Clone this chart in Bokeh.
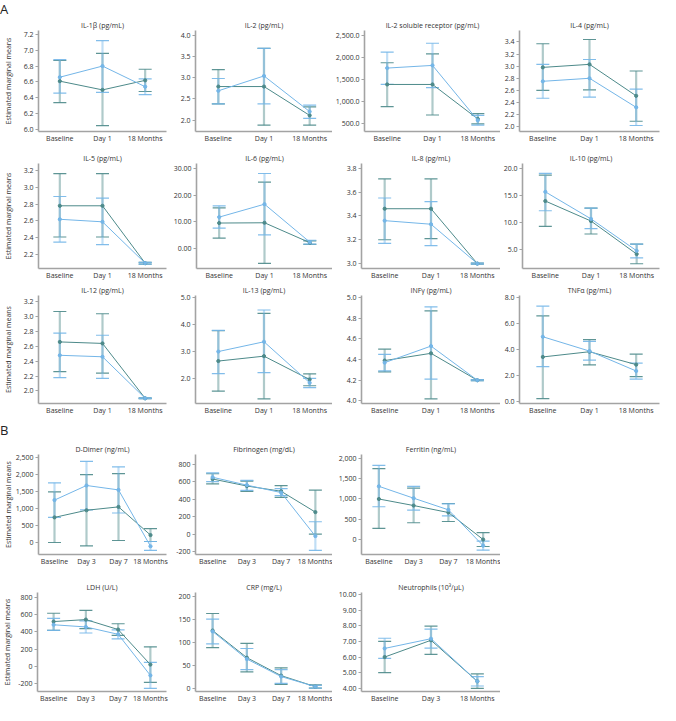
from bokeh.plotting import figure
from bokeh.models import (Whisker, TeeHead, ColumnDataSource, FixedTicker,
                          NumeralTickFormatter, Range1d, FactorRange, Div)
from bokeh.layouts import row, column
from bokeh.embed import file_html
from bokeh.resources import INLINE

# ---------------- data ----------------
CATS_A = ["Baseline", "Day 1", "18 Months"]
CATS_B = ["Baseline", "Day 3", "Day 7", "18 Months"]
CATS_N = ["Baseline", "Day 3", "18 Months"]

IL1B_L = [6.66, 6.80, 6.54]; IL1B_L_LO = [6.46, 6.47, 6.44]; IL1B_L_HI = [6.88, 7.12, 6.64]
IL1B_D = [6.61, 6.50, 6.62]; IL1B_D_LO = [6.34, 6.05, 6.48]; IL1B_D_HI = [6.87, 6.96, 6.76]
IL1B_TICKS = [6.0, 6.2, 6.4, 6.6, 6.8, 7.0, 7.2]

IL2_L = [2.69, 3.04, 2.20]; IL2_L_LO = [2.38, 2.38, 2.04]; IL2_L_HI = [2.98, 3.69, 2.35]
IL2_D = [2.79, 2.79, 2.11]; IL2_D_LO = [2.38, 1.88, 1.88]; IL2_D_HI = [3.19, 3.69, 2.31]
IL2_TICKS = [2.0, 2.5, 3.0, 3.5, 4.0]

IL2SR_L = [1760, 1820, 580]; IL2SR_L_LO = [1390, 1320, 470]; IL2SR_L_HI = [2120, 2320, 690]
IL2SR_D = [1390, 1390, 610]; IL2SR_D_LO = [890, 700, 500]; IL2SR_D_HI = [1880, 2080, 730]
IL2SR_TICKS = [500, 1000, 1500, 2000, 2500]

IL4_L = [2.75, 2.80, 2.32]; IL4_L_LO = [2.47, 2.49, 2.02]; IL4_L_HI = [3.03, 3.11, 2.62]
IL4_D = [2.98, 3.03, 2.51]; IL4_D_LO = [2.60, 2.61, 2.09]; IL4_D_HI = [3.37, 3.44, 2.92]
IL4_TICKS = [2.0, 2.2, 2.4, 2.6, 2.8, 3.0, 3.2, 3.4]

IL5_L = [2.62, 2.59, 2.10]; IL5_L_LO = [2.35, 2.32, 2.09]; IL5_L_HI = [2.89, 2.87, 2.11]
IL5_D = [2.78, 2.78, 2.10]; IL5_D_LO = [2.41, 2.41, 2.09]; IL5_D_HI = [3.16, 3.16, 2.11]
IL5_TICKS = [2.2, 2.4, 2.6, 2.8, 3.0, 3.2]

IL6_L = [11.8, 16.6, 2.5]; IL6_L_LO = [7.7, 5.2, 1.8]; IL6_L_HI = [16.0, 28.0, 3.2]
IL6_D = [9.6, 9.7, 2.3]; IL6_D_LO = [4.0, -5.4, 1.7]; IL6_D_HI = [15.2, 24.8, 3.0]
IL6_TICKS = [0, 10, 20, 30]

IL8_L = [3.36, 3.33, 3.00]; IL8_L_LO = [3.17, 3.15, 2.995]; IL8_L_HI = [3.55, 3.52, 3.005]
IL8_D = [3.46, 3.46, 3.00]; IL8_D_LO = [3.20, 3.21, 2.995]; IL8_D_HI = [3.71, 3.71, 3.005]
IL8_TICKS = [3.0, 3.2, 3.4, 3.6, 3.8]

IL10_L = [15.6, 10.6, 4.7]; IL10_L_LO = [12.1, 8.8, 3.4]; IL10_L_HI = [19.0, 12.6, 5.95]
IL10_D = [13.9, 10.2, 4.1]; IL10_D_LO = [9.2, 7.8, 2.3]; IL10_D_HI = [18.7, 12.6, 5.95]
IL10_TICKS = [5, 10, 15, 20]

IL12_L = [2.48, 2.46, 1.90]; IL12_L_LO = [2.18, 2.17, 1.895]; IL12_L_HI = [2.78, 2.75, 1.905]
IL12_D = [2.66, 2.64, 1.90]; IL12_D_LO = [2.26, 2.24, 1.895]; IL12_D_HI = [3.07, 3.04, 1.905]
IL12_TICKS = [2.0, 2.2, 2.4, 2.6, 2.8, 3.0, 3.2]

IL13_L = [3.01, 3.37, 1.86]; IL13_L_LO = [2.20, 2.23, 1.68]; IL13_L_HI = [3.79, 4.54, 2.02]
IL13_D = [2.66, 2.84, 1.98]; IL13_D_LO = [1.55, 1.27, 1.75]; IL13_D_HI = [3.78, 4.42, 2.19]
IL13_TICKS = [2.0, 3.0, 4.0, 5.0]

INFG_L = [4.37, 4.53, 4.20]; INFG_L_LO = [4.29, 4.21, 4.195]; INFG_L_HI = [4.45, 4.91, 4.205]
INFG_D = [4.39, 4.46, 4.20]; INFG_D_LO = [4.28, 4.02, 4.195]; INFG_D_HI = [4.50, 4.87, 4.205]
INFG_TICKS = [4.0, 4.2, 4.4, 4.6, 4.8, 5.0]

TNFA_L = [5.00, 3.90, 2.37]; TNFA_L_LO = [2.70, 3.20, 1.75]; TNFA_L_HI = [7.35, 4.65, 2.97]
TNFA_D = [3.45, 3.85, 2.86]; TNFA_D_LO = [0.25, 2.84, 1.94]; TNFA_D_HI = [6.60, 4.78, 3.66]
TNFA_TICKS = [0, 2, 4, 6, 8]

DDIM_L = [1250, 1680, 1550, -110]; DDIM_L_LO = [740, 960, 870, -230]; DDIM_L_HI = [1760, 2390, 2230, 30]
DDIM_D = [740, 950, 1050, 220]; DDIM_D_LO = [0, -100, 60, 30]; DDIM_D_HI = [1490, 2000, 2030, 410]
DDIM_TICKS = [0, 500, 1000, 1500, 2000, 2500]

FIB_L = [650, 560, 475, -22]; FIB_L_LO = [600, 500, 440, -186]; FIB_L_HI = [700, 615, 520, 142]
FIB_D = [630, 550, 490, 252]; FIB_D_LO = [575, 490, 420, 0]; FIB_D_HI = [690, 605, 555, 504]
FIB_TICKS = [-200, 0, 200, 400, 600, 800]

FER_L = [1310, 1020, 735, -140]; FER_L_LO = [810, 730, 590, -250]; FER_L_HI = [1820, 1310, 880, -30]
FER_D = [1000, 840, 670, 10]; FER_D_LO = [280, 420, 450, -160]; FER_D_HI = [1740, 1265, 890, 180]
FER_TICKS = [0, 500, 1000, 1500, 2000]

LDH_L = [480, 455, 370, -105]; LDH_L_LO = [415, 385, 317, -255]; LDH_L_HI = [554, 525, 420, 45]
LDH_D = [517, 540, 425, 20]; LDH_D_LO = [415, 435, 358, -185]; LDH_D_HI = [613, 647, 492, 225]
LDH_TICKS = [-200, 0, 200, 400, 600, 800]

CRP_L = [123, 63, 25, 3]; CRP_L_LO = [96, 40, 10, 0]; CRP_L_HI = [150, 86, 40, 6]
CRP_D = [125, 66, 27, 3]; CRP_D_LO = [88, 35, 8, 0]; CRP_D_HI = [162, 97, 44, 7]
CRP_TICKS = [0, 50, 100, 150, 200]

NEU_L = [6.55, 7.17, 4.45]; NEU_L_LO = [5.92, 6.57, 4.15]; NEU_L_HI = [7.20, 7.78, 4.75]
NEU_D = [6.00, 7.07, 4.45]; NEU_D_LO = [5.00, 6.17, 4.00]; NEU_D_HI = [7.00, 7.97, 4.92]
NEU_TICKS = [4, 5, 6, 7, 8, 9, 10]

# ---------------- style ----------------
LIGHT = "#74b6e8"
DARK = "#4d8a8a"
AXIS = "#a3a3a3"
TXT = "#333333"
FONT = "Open Sans"
FS = "7px"

# column geometry: (width, min_border_left, min_border_right)
COLS = [(170, 32, 4), (162, 25, 0), (168, 29, 0), (160, 19, 1)]


def panel(col, rowdims, title, cats, lm, llo, lhi, dm, dlo, dhi, ylim, ticks, fmt,
          ylabel_standoff=None):
    width, left, right = COLS[col]
    height, top, bottom = rowdims
    p = figure(width=width, height=height, x_range=FactorRange(factors=cats),
               y_range=Range1d(*ylim), output_backend="svg", toolbar_location=None,
               min_border_left=left, min_border_right=right,
               min_border_top=top, min_border_bottom=bottom,
               title=title, background_fill_color="white", border_fill_color="white")
    p.outline_line_color = None
    p.xgrid.visible = False
    p.ygrid.visible = False
    p.title.text_font = FONT
    p.title.text_font_size = FS
    p.title.text_font_style = "normal"
    p.title.text_color = TXT
    p.title.align = "center"
    try:
        p.title.standoff = 1
    except Exception:
        pass

    for ax in (p.xaxis[0], p.yaxis[0]):
        ax.axis_line_color = AXIS
        ax.axis_line_width = 1.6
        ax.major_label_text_font = FONT
        ax.major_label_text_font_size = FS
        ax.major_label_text_color = TXT
        ax.minor_tick_line_color = None
        ax.major_label_standoff = 2
    p.xaxis.major_tick_line_color = None
    p.xaxis.major_tick_out = 0
    p.xaxis.major_tick_in = 0
    p.yaxis.major_tick_line_color = AXIS
    p.yaxis.major_tick_out = 3
    p.yaxis.major_tick_in = 0
    p.yaxis.ticker = FixedTicker(ticks=ticks)
    p.yaxis.formatter = NumeralTickFormatter(format=fmt)
    if ylabel_standoff is not None:
        p.yaxis.axis_label = "Estimated marginal means"
        p.yaxis.axis_label_text_font = FONT
        p.yaxis.axis_label_text_font_size = FS
        p.yaxis.axis_label_text_font_style = "normal"
        p.yaxis.axis_label_text_color = TXT
        p.yaxis.axis_label_standoff = ylabel_standoff

    for m, lo, hi, c in ((dm, dlo, dhi, DARK), (lm, llo, lhi, LIGHT)):
        src = ColumnDataSource(dict(x=cats, m=m, lo=lo, hi=hi))
        w = Whisker(source=src, base="x", lower="lo", upper="hi",
                    line_color=c, line_width=2.2, line_alpha=0.45,
                    upper_head=TeeHead(size=13, line_color=c, line_width=1.2, line_alpha=0.9),
                    lower_head=TeeHead(size=13, line_color=c, line_width=1.2, line_alpha=0.9))
        p.add_layout(w)
    for m, lo, hi, c in ((dm, dlo, dhi, DARK), (lm, llo, lhi, LIGHT)):
        src = ColumnDataSource(dict(x=cats, m=m))
        p.line("x", "m", source=src, line_color=c, line_width=1.0)
        p.scatter("x", "m", source=src, size=3.2, fill_color=c, line_color=c)
    return p


RA1 = (127, 10, 13)
RA2 = (138, 18, 15)
RA3 = (135, 11, 15)
RB1 = (130, 16, 12)
RB2 = (137, 24, 12)

a1 = row(
    panel(0, RA1, "IL-1β (pg/mL)", CATS_A, IL1B_L, IL1B_L_LO, IL1B_L_HI, IL1B_D, IL1B_D_LO, IL1B_D_HI,
          (5.976, 7.248), IL1B_TICKS, "0.0", ylabel_standoff=8),
    panel(1, RA1, "IL-2 (pg/mL)", CATS_A, IL2_L, IL2_L_LO, IL2_L_HI, IL2_D, IL2_D_LO, IL2_D_HI,
          (1.73, 4.112), IL2_TICKS, "0.0"),
    panel(2, RA1, "IL-2 soluble receptor (pg/mL)", CATS_A, IL2SR_L, IL2SR_L_LO, IL2SR_L_HI,
          IL2SR_D, IL2SR_D_LO, IL2SR_D_HI, (328, 2608), IL2SR_TICKS, "0,0.0"),
    panel(3, RA1, "IL-4 (pg/mL)", CATS_A, IL4_L, IL4_L_LO, IL4_L_HI, IL4_D, IL4_D_LO, IL4_D_HI,
          (1.921, 3.589), IL4_TICKS, "0.0"),
)
a2 = row(
    panel(0, RA2, "IL-5 (pg/mL)", CATS_A, IL5_L, IL5_L_LO, IL5_L_HI, IL5_D, IL5_D_LO, IL5_D_HI,
          (2.037, 3.281), IL5_TICKS, "0.0", ylabel_standoff=8),
    panel(1, RA2, "IL-6 (pg/mL)", CATS_A, IL6_L, IL6_L_LO, IL6_L_HI, IL6_D, IL6_D_LO, IL6_D_HI,
          (-7.29, 31.72), IL6_TICKS, "0.00"),
    panel(2, RA2, "IL-8 (pg/mL)", CATS_A, IL8_L, IL8_L_LO, IL8_L_HI, IL8_D, IL8_D_LO, IL8_D_HI,
          (2.959, 3.839), IL8_TICKS, "0.0"),
    panel(3, RA2, "IL-10 (pg/mL)", CATS_A, IL10_L, IL10_L_LO, IL10_L_HI, IL10_D, IL10_D_LO, IL10_D_HI,
          (1.425, 20.84), IL10_TICKS, "0.0"),
)
a3 = row(
    panel(0, RA3, "IL-12 (pg/mL)", CATS_A, IL12_L, IL12_L_LO, IL12_L_HI, IL12_D, IL12_D_LO, IL12_D_HI,
          (1.83, 3.286), IL12_TICKS, "0.0", ylabel_standoff=8),
    panel(1, RA3, "IL-13 (pg/mL)", CATS_A, IL13_L, IL13_L_LO, IL13_L_HI, IL13_D, IL13_D_LO, IL13_D_HI,
          (1.096, 5.075), IL13_TICKS, "0.0"),
    panel(2, RA3, "INFγ (pg/mL)", CATS_A, INFG_L, INFG_L_LO, INFG_L_HI, INFG_D, INFG_D_LO, INFG_D_HI,
          (3.975, 5.019), INFG_TICKS, "0.0"),
    panel(3, RA3, "TNFα (pg/mL)", CATS_A, TNFA_L, TNFA_L_LO, TNFA_L_HI, TNFA_D, TNFA_D_LO, TNFA_D_HI,
          (-0.127, 8.17), TNFA_TICKS, "0.0"),
)
b1 = row(
    panel(0, RB1, "D-Dimer (ng/mL)", CATS_B, DDIM_L, DDIM_L_LO, DDIM_L_HI, DDIM_D, DDIM_D_LO, DDIM_D_HI,
          (-353, 2593), DDIM_TICKS, "0,0", ylabel_standoff=0),
    panel(1, RB1, "Fibrinogen (mg/dL)", CATS_B, FIB_L, FIB_L_LO, FIB_L_HI, FIB_D, FIB_D_LO, FIB_D_HI,
          (-232, 910), FIB_TICKS, "0"),
    panel(2, RB1, "Ferritin (ng/mL)", CATS_B, FER_L, FER_L_LO, FER_L_HI, FER_D, FER_D_LO, FER_D_HI,
          (-356, 2087), FER_TICKS, "0,0"),
)
b2 = row(
    panel(0, RB2, "LDH (U/L)", CATS_B, LDH_L, LDH_L_LO, LDH_L_HI, LDH_D, LDH_D_LO, LDH_D_HI,
          (-291, 853), LDH_TICKS, "0", ylabel_standoff=3),
    panel(1, RB2, "CRP (mg/L)", CATS_B, CRP_L, CRP_L_LO, CRP_L_HI, CRP_D, CRP_D_LO, CRP_D_HI,
          (-7.5, 207.7), CRP_TICKS, "0"),
    panel(2, RB2, "Neutrophils (10³/μL)", CATS_N, NEU_L, NEU_L_LO, NEU_L_HI, NEU_D, NEU_D_LO, NEU_D_HI,
          (3.80, 10.12), NEU_TICKS, "0.00"),
)

lab_a = Div(text="A", width=660, height=18,
            styles={"font-size": "13px", "line-height": "18px", "font-family": FONT,
                    "color": "#222", "overflow": "visible"},
            margin=(0, 0, 0, 0))
lab_b = Div(text="B", width=660, height=20,
            styles={"font-size": "13px", "line-height": "24px", "font-family": FONT,
                    "color": "#222", "overflow": "visible"},
            margin=(0, 0, 0, 0))

layout = column(lab_a, a1, a2, a3, lab_b, b1, b2)

open("out.html", "w").write(file_html(layout, INLINE))
